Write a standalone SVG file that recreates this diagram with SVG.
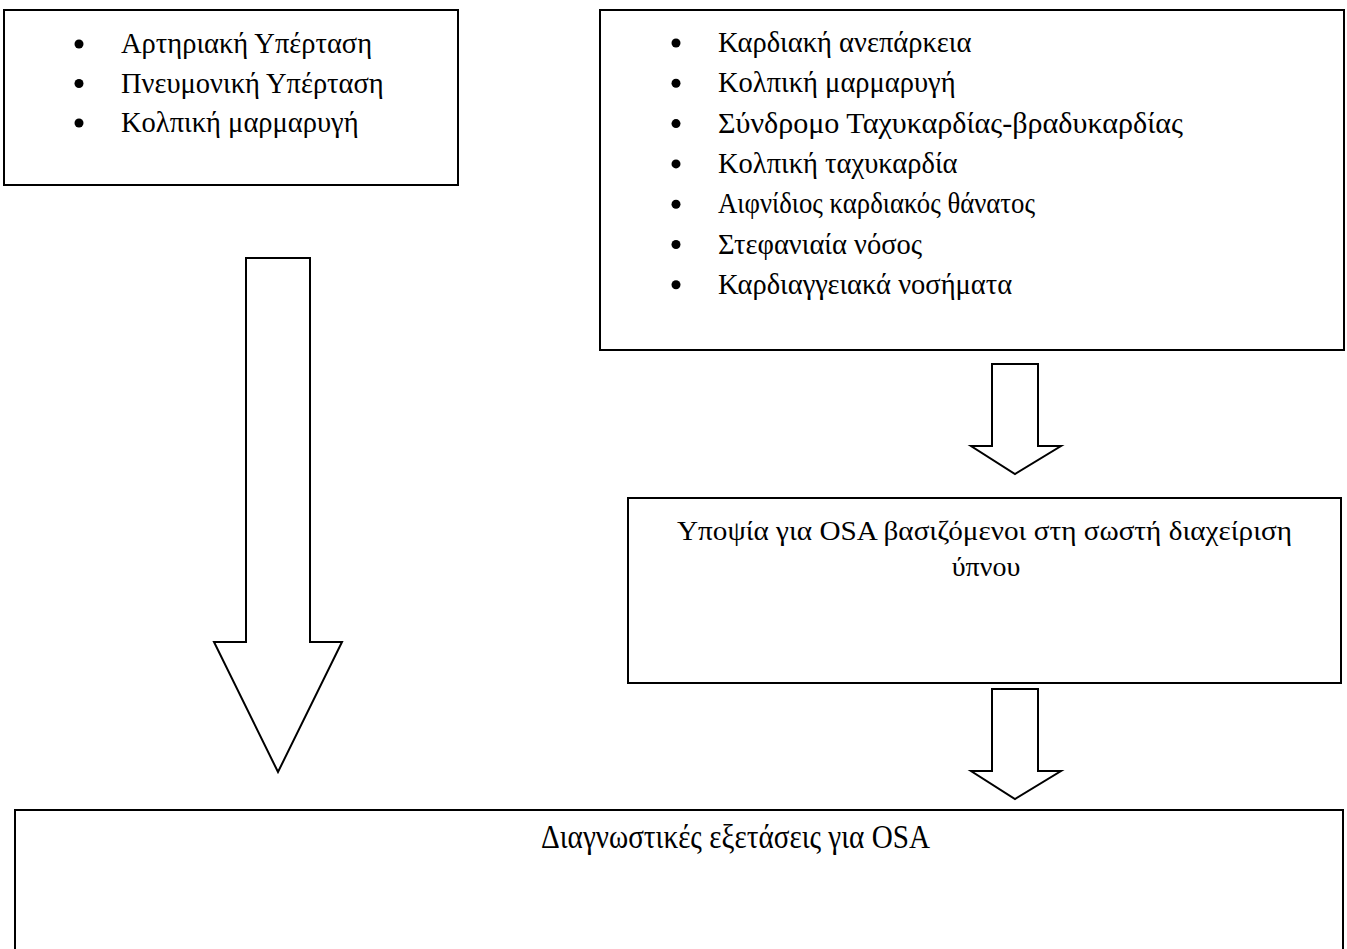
<svg xmlns="http://www.w3.org/2000/svg" width="1347" height="949" viewBox="0 0 1347 949">
<style>
.box{fill:#fff;stroke:#000;stroke-width:2}
.arr{fill:#fff;stroke:#000;stroke-width:2;stroke-linejoin:miter}
.t{font-family:"Liberation Serif","Times New Roman",serif;fill:#000}
.li{font-size:28.5px}
.dot{fill:#000}
</style>
<rect width="1347" height="949" fill="#fff"/>
<g id="connectors">
<polygon class="arr" points="246,258 310,258 310,642 342,642 278,772 214,642 246,642"/>
<polygon class="arr" points="992,364 1038,364 1038,446 1061,446 1015,474 971,446 992,446"/>
<polygon class="arr" points="992,689 1038,689 1038,771 1061,771 1015,799 971,771 992,771"/>
</g>
<g id="node-left">
<rect class="box" x="4" y="10" width="454" height="175"/>
<circle class="dot" cx="79" cy="44" r="4.5"/>
<circle class="dot" cx="79" cy="83.5" r="4.5"/>
<circle class="dot" cx="79" cy="123" r="4.5"/>
<text class="t li" x="121" y="53">Αρτηριακή Υπέρταση</text>
<text class="t li" x="121" y="92.5">Πνευμονική Υπέρταση</text>
<text class="t li" x="121" y="132">Κολπική μαρμαρυγή</text>
</g>
<g id="node-right">
<rect class="box" x="600" y="10" width="744" height="340"/>
<circle class="dot" cx="676" cy="43" r="4.5"/>
<circle class="dot" cx="676" cy="83.3" r="4.5"/>
<circle class="dot" cx="676" cy="123.6" r="4.5"/>
<circle class="dot" cx="676" cy="163.9" r="4.5"/>
<circle class="dot" cx="676" cy="204.2" r="4.5"/>
<circle class="dot" cx="676" cy="244.5" r="4.5"/>
<circle class="dot" cx="676" cy="284.8" r="4.5"/>
<text class="t li" x="718" y="52">Καρδιακή ανεπάρκεια</text>
<text class="t li" x="718" y="92.3">Κολπική μαρμαρυγή</text>
<text class="t li" x="718" y="132.6" textLength="465" lengthAdjust="spacingAndGlyphs">Σύνδρομο Ταχυκαρδίας-βραδυκαρδίας</text>
<text class="t li" x="718" y="172.9">Κολπική ταχυκαρδία</text>
<text class="t li" x="718" y="213.2" textLength="317" lengthAdjust="spacingAndGlyphs">Αιφνίδιος καρδιακός θάνατος</text>
<text class="t li" x="718" y="253.5">Στεφανιαία νόσος</text>
<text class="t li" x="718" y="293.8">Καρδιαγγειακά νοσήματα</text>
</g>
<g id="node-suspicion">
<rect class="box" x="628" y="498" width="713" height="185"/>
<text class="t" x="984.5" y="540" font-size="28" text-anchor="middle" textLength="615" lengthAdjust="spacingAndGlyphs">Υποψία για OSA βασιζόμενοι στη σωστή διαχείριση</text>
<text class="t" x="986" y="576" font-size="28" text-anchor="middle">ύπνου</text>
</g>
<g id="node-diagnostic">
<rect class="box" x="15" y="810" width="1328" height="160"/>
<text class="t" x="541" y="848" font-size="34" textLength="389" lengthAdjust="spacingAndGlyphs">Διαγνωστικές εξετάσεις για OSA</text>
</g>
</svg>
